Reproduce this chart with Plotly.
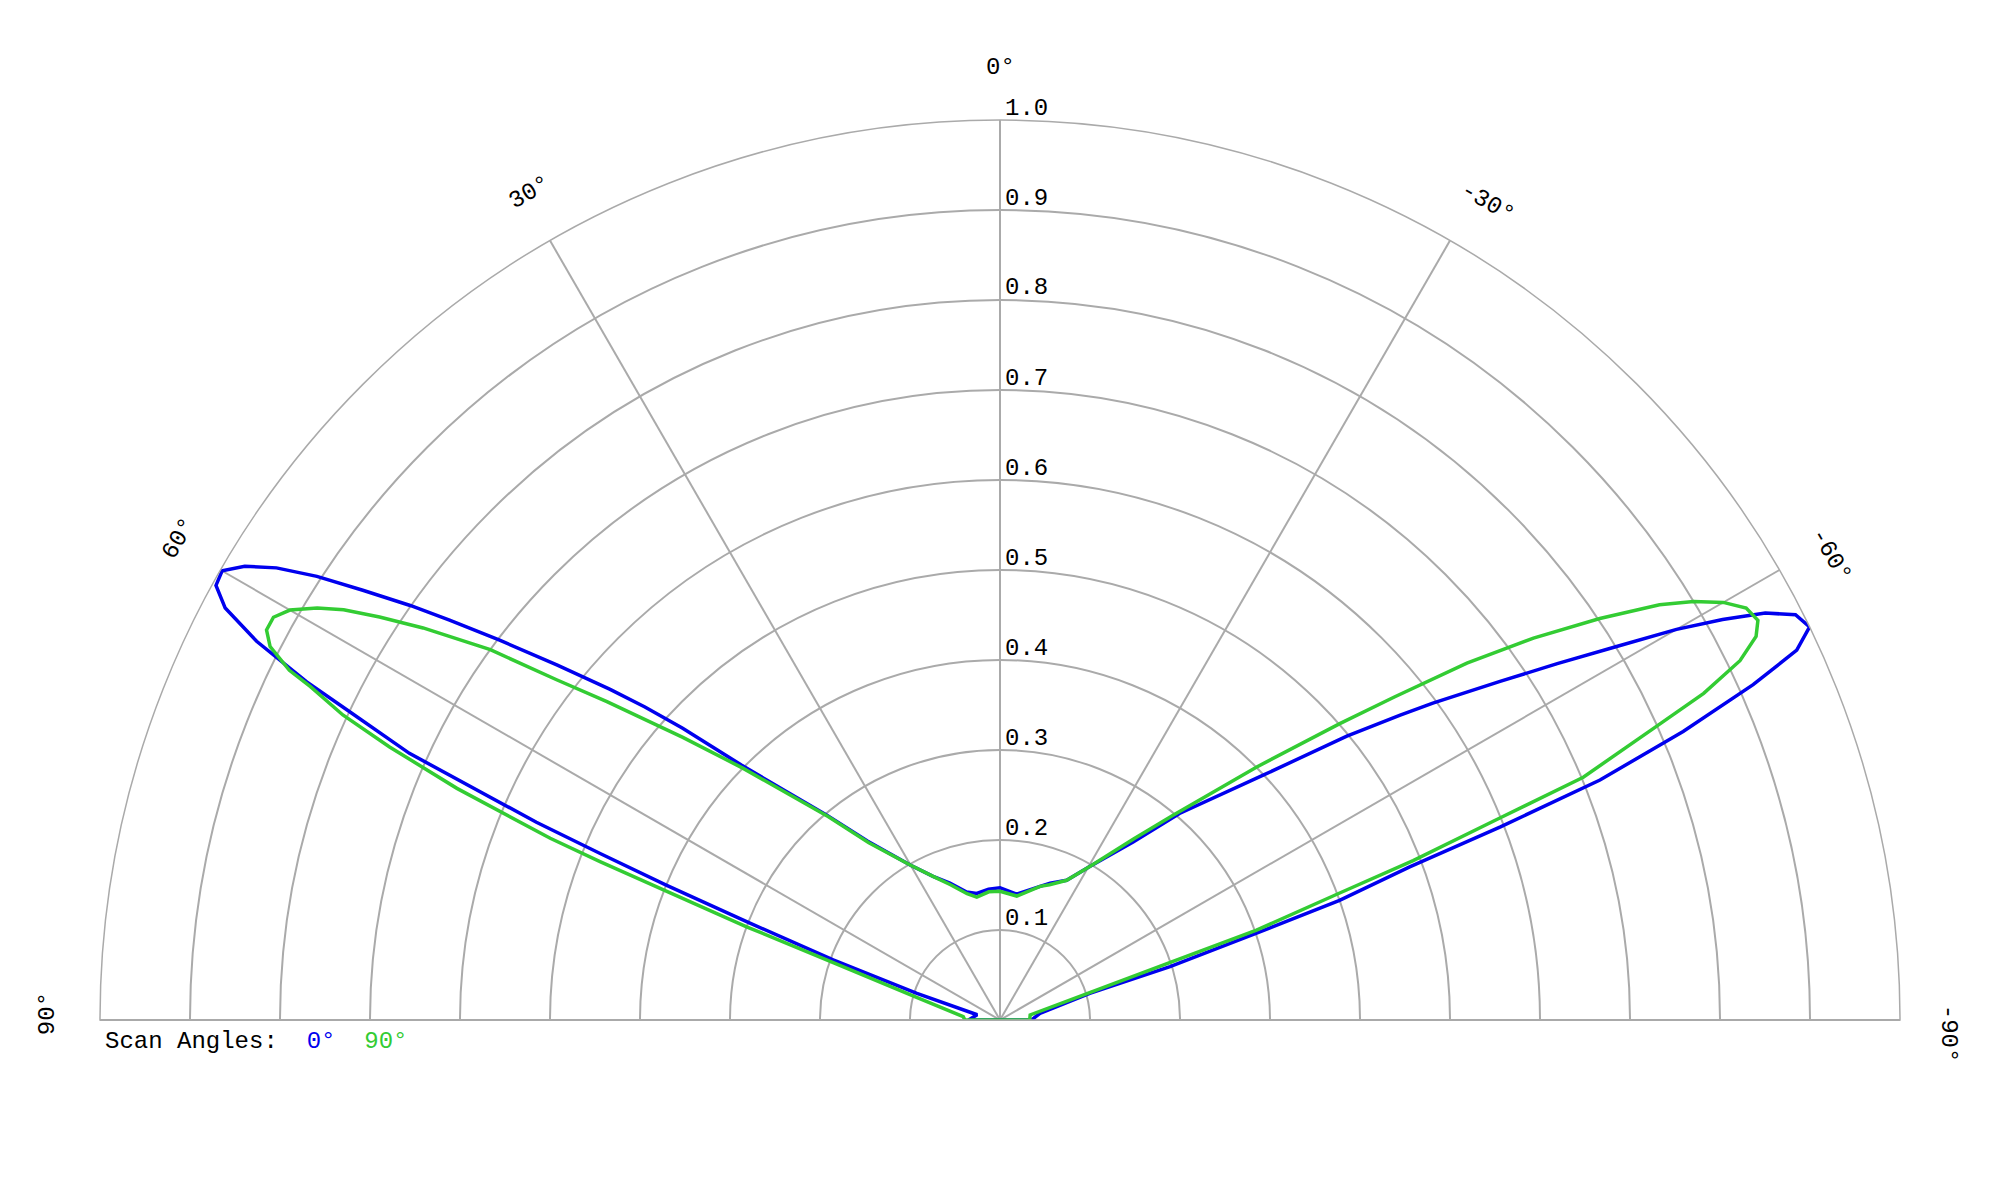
import numpy as np
import plotly.graph_objects as go

# scan angle 0 deg (blue) -- pattern, theta in degrees
blue_theta = [90, 77, 72.2, 70.2, 68.8, 68.0, 67.4, 66.9, 65.7, 64.6,
              64.0, 63.0, 62.0, 61.0, 60.0, 59.0, 58.0, 57.0, 56.0, 54.9,
              54.0, 52.8, 51.3, 49.7, 48.6, 47.4, 45.4, 40.2, 36.5, 30.1, 25.0,
              20.1, 14.6, 10.4, 5.0, 0.0, -7.5, -16.7, -20.1, -25.5, -30.4,
              -36.8, -41.0, -47.1, -50.7, -52.7, -53.8, -55.9, -57.4, -58.8, -60.0,
              -61.0, -62.0, -63.0, -64.1, -65.1, -66.0, -67.1, -68.2, -68.9, -69.5,
              -70.6, -71.3, -72.6, -73.5, -80.5, -90]
blue_r = [0.035, 0.026, 0.097, 0.197, 0.300, 0.400, 0.480, 0.560, 0.720, 0.803,
          0.857, 0.927, 0.975, 0.996, 0.998, 0.979, 0.948, 0.905, 0.854, 0.801,
          0.756, 0.698, 0.631, 0.568, 0.526, 0.479, 0.403, 0.298, 0.247, 0.199, 0.176,
          0.162, 0.147, 0.143, 0.146, 0.147, 0.141, 0.155, 0.162, 0.172, 0.198,
          0.247, 0.304, 0.400, 0.498, 0.559, 0.596, 0.671, 0.735, 0.801, 0.868,
          0.918, 0.963, 0.992, 1.000, 0.976, 0.916, 0.824, 0.718, 0.596, 0.486,
          0.400, 0.301, 0.198, 0.104, 0.045, 0.035]

# scan angle 90 deg (green)
green_theta = [90, 84.8, 74.8, 71.0, 69.8, 68.4, 68.0, 66.9, 65.9, 65.1,
               64.2, 63.8, 62.9, 62.0, 61.0, 60.0, 58.9, 58.0, 57.0, 55.8,
               54.0, 52.5, 51.0, 48.3, 45.6, 40.2, 36.5, 30.1, 25.0, 20.1,
               14.6, 10.7, 5.0, 0.0, -7.7, -16.7, -20.1, -25.5, -30.4, -36.4,
               -40.2, -45.4, -48.9, -50.7, -52.6, -54.4, -56.2, -57.8, -58.9, -60.0,
               -61.1, -62.2, -63.1, -64.1, -65.1, -65.9, -67.4, -68.0, -68.9, -69.5,
               -70.7, -71.3, -73.0, -80.5, -90]
green_r = [0.039, 0.041, 0.096, 0.196, 0.300, 0.478, 0.539, 0.656, 0.743, 0.805,
           0.851, 0.880, 0.911, 0.923, 0.923, 0.911, 0.886, 0.860, 0.822, 0.775,
           0.700, 0.621, 0.562, 0.472, 0.400, 0.296, 0.245, 0.199, 0.176, 0.160,
           0.145, 0.139, 0.143, 0.143, 0.139, 0.155, 0.160, 0.172, 0.198, 0.250,
           0.298, 0.400, 0.501, 0.567, 0.653, 0.729, 0.802, 0.866, 0.900, 0.928,
           0.947, 0.952, 0.942, 0.914, 0.862, 0.799, 0.702, 0.599, 0.492, 0.403,
           0.302, 0.199, 0.105, 0.034, 0.033]

angle_ticks = [90, 60, 30, 0, -30, -60, -90]
radial_ticks = [0.1, 0.2, 0.3, 0.4, 0.5, 0.6, 0.7, 0.8, 0.9, 1.0]

W, H = 2000, 1200
FONT = "Liberation Mono, Courier New, monospace"
GRID = "#aaaaaa"
# page has an 8px body margin; centre of the half disc sits at (1000, 1020) on the page, radius 900
OFF = 8
CX_PX, CY_PX, R_PX = 1000 - OFF, 1020 - OFF, 900
dom_x = [(CX_PX - R_PX) / W, (CX_PX + R_PX) / W]
dom_y = [1 - CY_PX / H, 1 - (CY_PX - R_PX) / H]

fig = go.Figure()
for th, rr, col in [(blue_theta, blue_r, "#0000ee"), (green_theta, green_r, "#33cc33")]:
    fig.add_trace(go.Scatterpolar(
        r=rr + [rr[0]], theta=th + [th[0]], mode="lines",
        line=dict(color=col, width=3.5), cliponaxis=False,
        showlegend=False, hoverinfo="skip"))

# polar centre / radius in paper units
cx = (dom_x[0] + dom_x[1]) / 2
cy = dom_y[0]
rx = (dom_x[1] - dom_x[0]) / 2
ry = dom_y[1] - dom_y[0]

annotations = []
# angular labels, rotated along the rim
for a in angle_ticks:
    nudge = 0.4 if a > 0 else (0.8 if a < 0 else 0)
    k = 1.054 if a == -90 else 1.058
    phi = np.radians(90 + a - nudge)
    annotations.append(dict(
        x=cx + rx * k * np.cos(phi), y=cy + ry * k * np.sin(phi),
        xref="paper", yref="paper", text=f"{a}\u00b0", showarrow=False,
        textangle=-a, xanchor="center", yanchor="middle",
        font=dict(family=FONT, size=24, color="black")))

# radial labels just above each ring, right of the 0 deg spoke
for v in radial_ticks:
    annotations.append(dict(
        x=cx + 3 / W, y=cy + ry * v + 12 / H,
        xref="paper", yref="paper", text=f"{v:.1f}", showarrow=False,
        xanchor="left", yanchor="middle",
        font=dict(family=FONT, size=24, color="black")))

# legend line under the plot
annotations.append(dict(
    x=dom_x[0] + 3 / W, y=cy - 21 / H, xref="paper", yref="paper",
    text="Scan Angles:\u00a0\u00a0<span style='color:#0000ee'>0\u00b0</span>"
         "\u00a0\u00a0<span style='color:#33cc33'>90\u00b0</span>",
    showarrow=False, xanchor="left", yanchor="middle",
    font=dict(family=FONT, size=24, color="black")))

fig.update_layout(
    width=W, height=H,
    margin=dict(l=0, r=0, t=0, b=0),
    paper_bgcolor="white",
    font=dict(family=FONT, size=24, color="black"),
    polar=dict(
        domain=dict(x=dom_x, y=dom_y),
        sector=[0, 180],
        bgcolor="white",
        angularaxis=dict(
            rotation=90, direction="counterclockwise",
            tickmode="linear", tick0=0, dtick=30,
            showticklabels=False, ticks="",
            showgrid=True, gridcolor=GRID, gridwidth=1.5,
            showline=True, linecolor=GRID, linewidth=1.5),
        radialaxis=dict(
            range=[0, 1], tickmode="linear", tick0=0, dtick=0.1,
            showticklabels=False, ticks="", showline=False,
            showgrid=True, gridcolor=GRID, gridwidth=1.5),
    ),
    annotations=annotations,
)

fig.write_html("out.html")
